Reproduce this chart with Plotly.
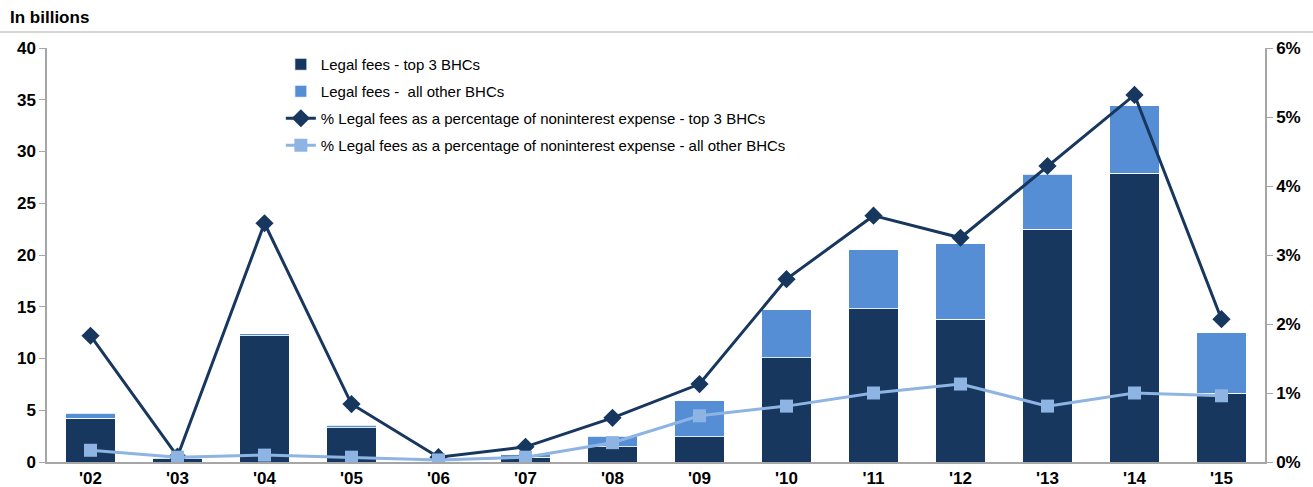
import plotly.graph_objects as go

years = ["'02", "'03", "'04", "'05", "'06", "'07", "'08", "'09", "'10", "'11", "'12", "'13", "'14", "'15"]
fees_top3 = [4.25, 0.3, 12.2, 3.3, 0.05, 0.45, 1.45, 2.45, 10.05, 14.8, 13.8, 22.5, 27.9, 6.65]
fees_other = [0.45, 0.1, 0.2, 0.25, 0.05, 0.25, 1.05, 3.45, 4.65, 5.7, 7.3, 5.3, 6.5, 5.85]
pct_top3 = [1.83, 0.08, 3.46, 0.84, 0.07, 0.22, 0.64, 1.13, 2.65, 3.57, 3.25, 4.29, 5.32, 2.07]
pct_other = [0.17, 0.07, 0.10, 0.07, 0.03, 0.07, 0.28, 0.67, 0.81, 1.00, 1.13, 0.81, 1.00, 0.96]

DARK = "#17375E"
MID = "#558ED5"
LIGHT = "#8EB4E3"
AX = "#A6A6A6"
FONT = "Liberation Sans, Arial, sans-serif"

fig = go.Figure()
fig.add_trace(go.Bar(x=years, y=fees_top3, name="Legal fees - top 3 BHCs",
                     marker=dict(color=DARK, line=dict(color="white", width=0.8)),
                     legendgroup="a"))
fig.add_trace(go.Bar(x=years, y=fees_other, name="Legal fees -  all other BHCs",
                     marker=dict(color=MID, line=dict(color="white", width=0.8)),
                     legendgroup="b"))
fig.add_trace(go.Scatter(x=years, y=[v / 100 for v in pct_top3], yaxis="y2", mode="lines+markers",
                         name="% Legal fees as a percentage of noninterest expense - top 3 BHCs",
                         line=dict(color=DARK, width=3),
                         marker=dict(symbol="diamond", size=14, color=DARK),
                         legendgroup="c"))
fig.add_trace(go.Scatter(x=years, y=[v / 100 for v in pct_other], yaxis="y2", mode="lines+markers",
                         name="% Legal fees as a percentage of noninterest expense - all other BHCs",
                         line=dict(color=LIGHT, width=3),
                         marker=dict(symbol="square", size=13, color=LIGHT),
                         legendgroup="d"))

fig.update_layout(
    width=1313, height=487,
    margin=dict(l=47, r=48, t=48, b=25),
    paper_bgcolor="white", plot_bgcolor="white",
    barmode="stack", bargap=0.43,
    font=dict(family=FONT, color="black", size=15),
    showlegend=True,
    legend=dict(x=0.192, y=1.0, xanchor="left", yanchor="top",
                traceorder="grouped", tracegroupgap=4.5,
                font=dict(family=FONT, size=15, color="black"),
                bgcolor="rgba(0,0,0,0)"),
    xaxis=dict(type="category", range=[-0.5, 13.5], automargin=False,
               showline=True, linecolor=AX, linewidth=1.5,
               ticks="", showgrid=False,
               tickfont=dict(family=FONT, size=17, color="black", weight="bold")),
    yaxis=dict(range=[0, 40], dtick=5, automargin=False,
               showline=True, linecolor=AX, linewidth=1.5,
               ticks="outside", ticklen=6, tickcolor=AX, showgrid=False, zeroline=False,
               tickfont=dict(family=FONT, size=17, color="black", weight="bold")),
    yaxis2=dict(range=[0, 0.06], dtick=0.01, tickformat=".0%", overlaying="y", side="right",
                automargin=False,
                showline=True, linecolor=AX, linewidth=1.5,
                ticks="outside", ticklen=6, tickcolor=AX, showgrid=False, zeroline=False,
                tickfont=dict(family=FONT, size=17, color="black", weight="bold")),
    annotations=[dict(text="<b>In billions</b>", xref="paper", yref="paper",
                      x=-39 / 1218, y=(462 - 18) / 414,
                      xanchor="left", yanchor="middle", showarrow=False,
                      font=dict(family=FONT, size=17, color="black"))],
    shapes=[dict(type="line", xref="paper", yref="paper",
                 x0=-47 / 1218, x1=1266 / 1218, y0=(462 - 32) / 414, y1=(462 - 32) / 414,
                 line=dict(color="#C8C8C8", width=1.5))],
)

fig.write_html("out.html", config={"displayModeBar": False},
               post_script="document.body.style.margin='0';")
